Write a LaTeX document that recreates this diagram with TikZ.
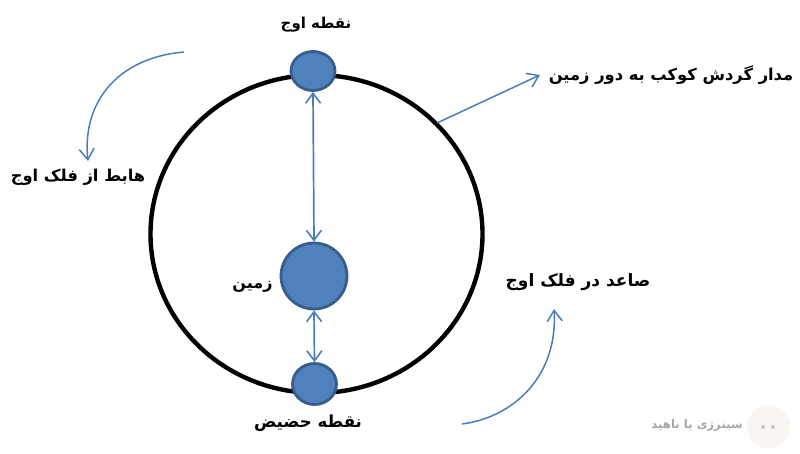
\documentclass[tikz,border=0pt]{standalone}
\usepackage{fontspec}
\usetikzlibrary{arrows.meta,shapes.geometric}
\TeXXeTstate=1
\newfontfamily\arabicfont[Script=Arabic]{DejaVu Sans}
\definecolor{nodefill}{HTML}{4F81BD}
\definecolor{nodeedge}{HTML}{385D8A}
\definecolor{linkblue}{HTML}{4A7EBB}
\definecolor{wmdisc}{HTML}{F9F5F0}
\tikzset{
  x=1pt,y=-1pt,
  planet/.style={ellipse,draw=nodeedge,line width=2.8pt,fill=nodefill,inner sep=0pt},
  link/.style={draw=linkblue,line width=1.7pt,{Straight Barb[length=10pt,width=15pt,line width=1.6pt]}-{Straight Barb[length=10pt,width=15pt,line width=1.6pt]}},
  linkone/.style={draw=linkblue,line width=1.5pt,-{Straight Barb[length=11pt,width=15pt,line width=1.5pt]}},
  label/.style={font=\arabicfont\bfseries\fontsize{16.3}{19}\selectfont,inner sep=0pt,text=black},
}
\begin{document}
\begin{tikzpicture}
\useasboundingbox (0,0) rectangle (800,454);
\node[ellipse,draw=black,line width=4.4pt,minimum width=332pt,minimum height=318pt,inner sep=0pt] (orbit) at (316.5,234) {};
\node[planet,minimum width=44pt,minimum height=39pt] (top) at (313,71) {};
\node[planet,minimum width=66pt,minimum height=66pt] (earth) at (314,276) {};
\node[planet,minimum width=44pt,minimum height=41pt] (bottom) at (314.5,384) {};
\draw[link] (top.south) -- (earth.north);
\draw[link] (earth.south) -- (bottom.north);
\node[label,font=\arabicfont\bfseries\fontsize{15}{18}\selectfont] (ltop) at (316,25) {\beginR نقطه اوج\endR};
\node[label] (lfall) at (78,177) {\beginR هابط از فلک اوج\endR};
\node[label] (lorbit) at (671,75) {\beginR مدار گردش کوکب به دور زمین\endR};
\node[label,font=\arabicfont\bfseries\fontsize{16}{18}\selectfont] (learth) at (252.5,287) {\beginR زمین\endR};
\node[label,font=\arabicfont\bfseries\fontsize{17}{19}\selectfont] (lrise) at (578,282) {\beginR صاعد در فلک اوج\endR};
\node[label,font=\arabicfont\bfseries\fontsize{16.6}{19}\selectfont] (lbottom) at (308,423) {\beginR نقطه حضیض\endR};
\node[circle,fill=wmdisc,inner sep=0pt,minimum size=43pt] (disc) at (768.5,427) {};
\node[font=\arabicfont\bfseries\fontsize{11.7}{14}\selectfont,text=black!35,inner sep=0pt] (lwm) at (697,425) {\beginR سینرژی با ناهید\endR};
\node[circle,fill=black!22,inner sep=0pt,minimum size=4pt] (d1) at (763,427) {};
\node[circle,fill=black!22,inner sep=0pt,minimum size=4pt] (d2) at (773,427) {};
\coordinate (a1) at (437,123);
\coordinate (a2) at (540,75);
\draw[linkone] (a1) -- (a2);
\coordinate (c1) at (184,52);
\coordinate (c2) at (88,161);
\draw[linkone] (c1) .. controls (115,58) and (82,105) .. (c2);
\coordinate (e1) at (462,424);
\coordinate (e2) at (554,309);
\draw[linkone] (e1) .. controls (515,417) and (558,375) .. (e2);
\end{tikzpicture}
\end{document}
